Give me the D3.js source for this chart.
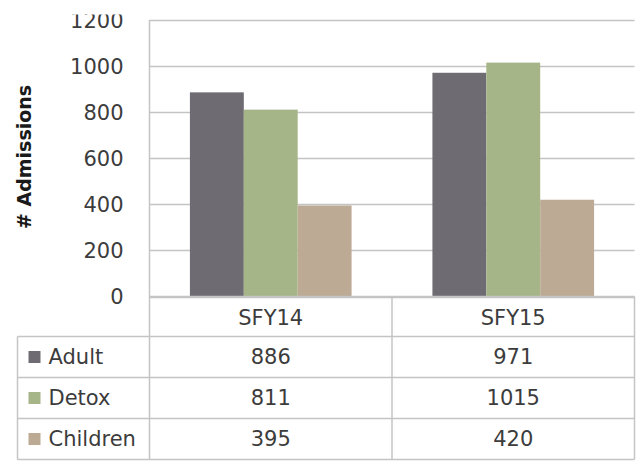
<!DOCTYPE html>
<html>
<head>
<meta charset="utf-8">
<script src="https://cdn.jsdelivr.net/npm/d3@7/dist/d3.min.js"></script>
<style>
  html, body { margin: 0; padding: 0; background: #fff; }
  svg { display: block; }
</style>
</head>
<body>
<script>
// ---- data ----
const categories = ["SFY14", "SFY15"];
const seriesNames = ["Adult", "Detox", "Children"];
const adultValues = [886, 971];
const detoxValues = [811, 1015];
const childrenValues = [395, 420];
const yTicks = [0, 200, 400, 600, 800, 1000, 1200];
const yTitle = "# Admissions";
const seriesColors = ["#6e6c72", "#a5b587", "#bcaa95"];

const seriesValues = [adultValues, detoxValues, childrenValues];

// ---- layout ----
const W = 642, H = 461;
const plotLeft = 149.5, plotRight = 634.5, plotTop = 20, plotBottom = 296.5;
const rowHeights = [40, 41, 41, 41];
const tableLeft = 17.5;
const gridColor = "#c4c4c4";
const textColor = "#3c3c3c";
const font = "DejaVu Sans";

const svg = d3.select("body").append("svg").attr("width", W).attr("height", H);

const y = d3.scaleLinear().domain([0, 1200]).range([plotBottom, plotTop]);
const x0 = d3.scaleBand().domain(categories).range([plotLeft, plotRight]).padding(0);
const x1 = d3.scaleBand().domain(seriesNames).range([0, x0.bandwidth()])
  .paddingInner(0).paddingOuter(0.75);
const color = d3.scaleOrdinal().domain(seriesNames).range(seriesColors);

// gridlines
svg.append("g").selectAll("line").data(yTicks).join("line")
  .attr("x1", plotLeft).attr("x2", plotRight)
  .attr("y1", d => Math.round(y(d)) + 0.5).attr("y2", d => Math.round(y(d)) + 0.5)
  .attr("stroke", gridColor).attr("stroke-width", 1.5);

// y axis labels via d3 axis
const yAxis = d3.axisLeft(y).tickValues(yTicks).tickSize(0).tickPadding(26)
  .tickFormat(d3.format("d"));
const gy = svg.append("g").attr("transform", `translate(${plotLeft},0)`).call(yAxis);
gy.select(".domain").remove();
gy.selectAll("text").attr("font-family", font).attr("font-size", 21)
  .attr("fill", textColor).attr("dy", "0.35em");

// bars
const groups = svg.append("g").selectAll("g").data(categories).join("g")
  .attr("transform", d => `translate(${x0(d)},0)`);
groups.selectAll("rect")
  .data((c, ci) => seriesNames.map((s, si) => ({ s, v: seriesValues[si][ci] })))
  .join("rect")
  .attr("x", d => x1(d.s))
  .attr("width", x1.bandwidth())
  .attr("y", d => y(d.v))
  .attr("height", d => y(0) - y(d.v))
  .attr("fill", d => color(d.s));

// clip top of labels (source image is cropped)
svg.append("rect").attr("x", 0).attr("y", 0).attr("width", plotLeft - 2).attr("height", 14.5).attr("fill", "#fff");

// y axis title
svg.append("text")
  .attr("transform", `translate(24,157) rotate(-90)`)
  .attr("text-anchor", "middle").attr("dominant-baseline", "central")
  .attr("font-family", font).attr("font-weight", "bold").attr("font-size", 19)
  .attr("fill", "#1a1a1a")
  .text(yTitle);

// ---- data table ----
const rowTops = [plotBottom];
rowHeights.forEach(h => rowTops.push(rowTops[rowTops.length - 1] + h));
const table = svg.append("g");
const line = (x1_, y1_, x2_, y2_) => table.append("line")
  .attr("x1", x1_).attr("y1", y1_).attr("x2", x2_).attr("y2", y2_)
  .attr("stroke", gridColor).attr("stroke-width", 1.5);

// vertical axis line through table
line(plotLeft, plotTop, plotLeft, rowTops[4]);
// right border
line(plotRight, rowTops[0], plotRight, rowTops[4]);
// middle column divider
const mid = x0(categories[1]);
line(mid, rowTops[0], mid, rowTops[4]);
// left border of row headers
line(tableLeft, rowTops[1], tableLeft, rowTops[4]);
// horizontal lines
line(plotLeft, rowTops[0], plotRight, rowTops[0]);
for (let i = 1; i <= 4; i++) line(tableLeft, rowTops[i], plotRight, rowTops[i]);

// header row
table.selectAll("text.cat").data(categories).join("text").attr("class", "cat")
  .attr("x", d => x0(d) + x0.bandwidth() / 2)
  .attr("y", (rowTops[0] + rowTops[1]) / 2 + 1)
  .attr("text-anchor", "middle").attr("dominant-baseline", "central")
  .attr("font-family", font).attr("font-size", 21).attr("fill", textColor)
  .text(d => d);

// series rows
seriesNames.forEach((s, si) => {
  const cy = (rowTops[si + 1] + rowTops[si + 2]) / 2;
  table.append("rect").attr("x", 28.5).attr("y", cy - 6).attr("width", 12).attr("height", 12)
    .attr("fill", color(s));
  table.append("text").attr("x", 48.5).attr("y", cy)
    .attr("dominant-baseline", "central")
    .attr("font-family", font).attr("font-size", 21).attr("fill", textColor)
    .text(s);
  categories.forEach((c, ci) => {
    table.append("text")
      .attr("x", x0(c) + x0.bandwidth() / 2).attr("y", cy)
      .attr("text-anchor", "middle").attr("dominant-baseline", "central")
      .attr("font-family", font).attr("font-size", 21).attr("fill", textColor)
      .text(seriesValues[si][ci]);
  });
});
</script>
</body>
</html>
